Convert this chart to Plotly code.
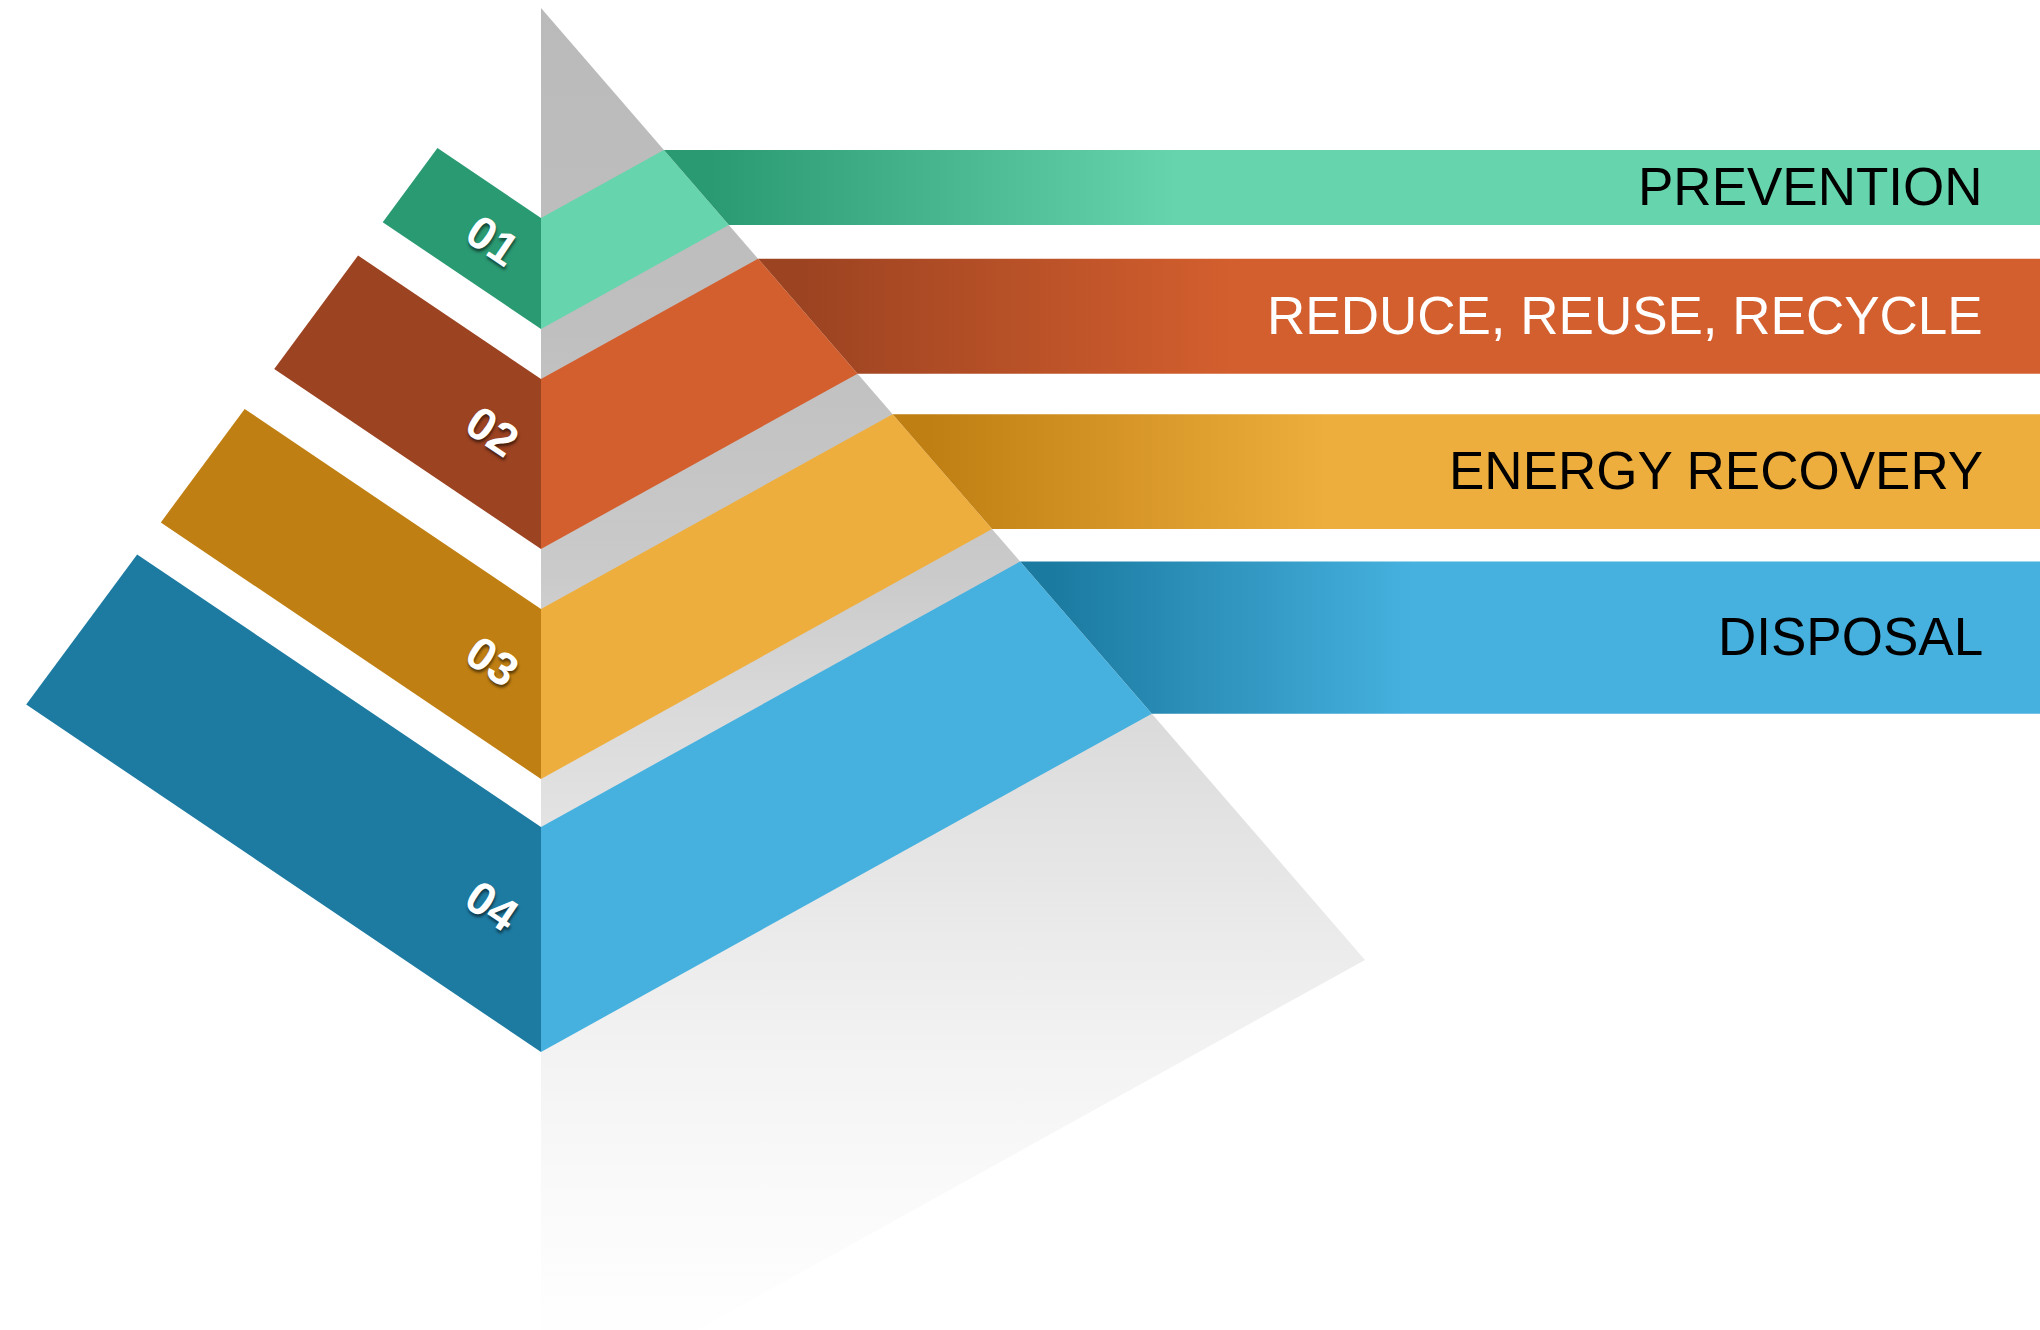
import plotly.graph_objects as go

# ---------------- data ----------------
levels = ["PREVENTION", "REDUCE, REUSE, RECYCLE", "ENERGY RECOVERY", "DISPOSAL"]
numbers = ["01", "02", "03", "04"]
text_colors = ["#000000", "#ffffff", "#000000", "#000000"]
front_colors = ["#66d4ad", "#d45f2e", "#eeae3d", "#46b1df"]
back_colors = ["#2a9a73", "#9c4321", "#c07f12", "#1d7ba2"]
bar_dark = ["#2a9a73", "#9c4321", "#c07f12", "#1b7aa0"]

# ---------------- geometry (pixel space) ----------------
W, H = 2040, 1330
CX = 541            # pyramid centre line
APEX_Y = 8
RIGHT_SLOPE = 1.1553
LEFT_SLOPE = 1.353
FRONT_SLOPE = 0.554
BACK_SLOPE = 0.675
RIGHT_X = 1365
band_top = [218, 379, 609, 827]
band_bot = [329, 549, 779, 1052]
TEXT_RIGHT = 1985
LABEL_OFF = 49


def right_hit(t):
    v = (t - APEX_Y) / (RIGHT_SLOPE + FRONT_SLOPE)
    return CX + v, t - FRONT_SLOPE * v


def left_hit(t):
    u = (t - APEX_Y) / (LEFT_SLOPE + BACK_SLOPE)
    return CX - u, t - BACK_SLOPE * u


def frac(y):
    return (y - APEX_Y) / (H - APEX_Y)


fig = go.Figure()

# gray pyramid body with vertical fade
right_y = APEX_Y + RIGHT_SLOPE * (RIGHT_X - CX)
bottom_y = right_y + FRONT_SLOPE * (RIGHT_X - CX)
gray_stops = [(APEX_Y, "#bababa"), (330, "#bfbfbf"), (580, "#cacaca"),
              (720, "#dadada"), (837, "#e3e3e3"), (953, "#ebebeb"),
              (1070, "#f3f3f3"), (1187, "#f9f9f9"), (H, "#fefefe")]
fig.add_trace(go.Scatter(
    x=[CX, RIGHT_X, CX, CX], y=[APEX_Y, right_y, bottom_y, APEX_Y],
    mode="lines", line=dict(width=0), fill="toself", fillcolor="#d8d8d8",
    fillgradient=dict(type="vertical", start=APEX_Y, stop=H,
                      colorscale=[[frac(y), c] for y, c in gray_stops]),
    hoverinfo="skip"))

for i in range(len(levels)):
    t, b = band_top[i], band_bot[i]
    x1, y1 = right_hit(t)
    x2, y2 = right_hit(b)
    span = 740 - 0.33 * x1
    # horizontal bar with gradient
    fig.add_trace(go.Scatter(
        x=[x1, W, W, x2, x1], y=[y1, y1, y2, y2, y1],
        mode="lines", line=dict(width=0), fill="toself", fillcolor=front_colors[i],
        fillgradient=dict(type="horizontal", start=x1, stop=x1 + span,
                          colorscale=[[0, bar_dark[i]], [0.1, bar_dark[i]],
                                      [1, front_colors[i]]]),
        hoverinfo="skip"))
    # front face band
    fig.add_trace(go.Scatter(
        x=[CX, x1, x2, CX, CX], y=[t, y1, y2, b, t],
        mode="lines", line=dict(width=0), fill="toself", fillcolor=front_colors[i],
        hoverinfo="skip"))
    # back face band
    lx1, ly1 = left_hit(t)
    lx2, ly2 = left_hit(b)
    fig.add_trace(go.Scatter(
        x=[CX, lx1, lx2, CX, CX], y=[t, ly1, ly2, b, t],
        mode="lines", line=dict(width=0), fill="toself", fillcolor=back_colors[i],
        hoverinfo="skip"))
    # level text
    fig.add_annotation(
        x=TEXT_RIGHT, y=(y1 + y2) / 2, xref="x", yref="y", text=levels[i],
        showarrow=False, xanchor="right", yanchor="middle", yshift=1,
        font=dict(family="Liberation Sans, Arial, sans-serif", size=53,
                  color=text_colors[i]))
    # number label
    fig.add_annotation(
        x=CX - LABEL_OFF, y=(t + b) / 2 - BACK_SLOPE * LABEL_OFF,
        xref="x", yref="y", text="<b>" + numbers[i] + "</b>",
        showarrow=False, textangle=34, xanchor="center", yanchor="middle",
        font=dict(family="Liberation Sans, Arial, sans-serif", size=46,
                  color="#ffffff", shadow="2px 2px 3px rgba(0,0,0,0.55)"))

fig.update_layout(
    autosize=True, margin=dict(l=0, r=0, t=0, b=0),
    paper_bgcolor="#ffffff", plot_bgcolor="#ffffff", showlegend=False,
    xaxis=dict(range=[0, W], visible=False, fixedrange=True),
    yaxis=dict(range=[H, 0], visible=False, fixedrange=True),
    hovermode=False)

post = (
    "document.body.style.margin='0';"
    "document.body.style.overflow='hidden';"
    "var gd=document.getElementById('{plot_id}');"
    "gd.style.width='100vw';gd.style.height='100vh';"
    "Plotly.Plots.resize(gd);"
)
fig.write_html("out.html", config={"displayModeBar": False}, post_script=post)
